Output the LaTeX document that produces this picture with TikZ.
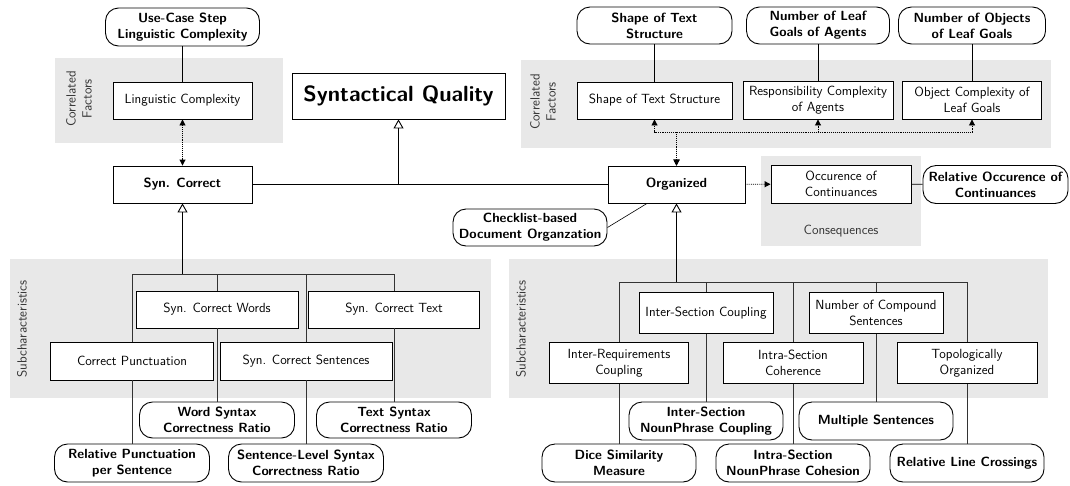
\documentclass[tikz,border=0pt]{standalone}
\usepackage{fontspec}
\usetikzlibrary{arrows.meta}
\newcommand\nf{\fontsize{13.3}{16}\selectfont\sffamily}
\newcommand\bigf{\fontsize{22}{26}\selectfont\sffamily\bfseries}
\begin{document}
\begin{tikzpicture}[x=1pt,y=-1pt,
  grp/.style={fill=black!9,draw=none},
  sz/.style 2 args={minimum width=#1pt,minimum height=#2pt},
  box/.style={draw,fill=white,line width=0.9pt,align=center,inner sep=1pt,font=\nf},
  mbox/.style={box,rounded corners=13pt,font=\nf\bfseries},
  lbl/.style={text=black!80,font=\nf,align=center},
  wire/.style={line width=0.9pt},
  twig/.style={line width=0.7pt,black!80},
  gen/.style={line width=1.3pt,-{Triangle[open,length=9pt,width=10pt,line width=0.9pt]}},
  genthin/.style={line width=0.9pt,-{Triangle[open,length=9pt,width=10pt,line width=0.9pt]}},
  corr/.style={densely dotted,line width=0.9pt,{Triangle[length=6pt,width=6pt]}-{Triangle[length=6pt,width=6pt]}},
  cons/.style={densely dotted,line width=0.9pt,-{Triangle[length=6pt,width=6pt]}},
]
\useasboundingbox (0,0) rectangle (1070,485);

% shaded groups
\fill[grp] (55,58) rectangle (283,143);
\fill[grp] (521,60) rectangle (1051,148);
\fill[grp] (761,156) rectangle (921,246);
\fill[grp] (10,259) rectangle (491,398);
\fill[grp] (509,259) rectangle (1048,398);

\node[lbl,rotate=90] (cfl) at (79,99) {Correlated\\Factors};
\node[lbl,rotate=90] (cfr) at (543,102) {Correlated\\Factors};
\node[lbl,rotate=90] (scl) at (22,329) {Subcharacteristics};
\node[lbl,rotate=90] (scr) at (521,329) {Subcharacteristics};
\node[lbl] (csq) at (841,231) {Consequences};

% main quality and characteristics
\node[box,sz={213}{46},font=\bigf] (sq) at (398.5,96) {Syntactical Quality};
\node[box,sz={139}{37},font=\nf\bfseries] (sc) at (182.5,184.5) {Syn. Correct};
\node[box,sz={137}{37},font=\nf\bfseries] (org) at (676.5,184.5) {Organized};

% correlated factors
\node[box,sz={139}{37}] (lc) at (182.5,100.5) {Linguistic Complexity};
\node[mbox,sz={154}{38}] (uc) at (182.5,27) {Use-Case Step\\Linguistic Complexity};
\node[box,sz={155}{37}] (sts) at (654.5,100.5) {Shape of Text Structure};
\node[mbox,sz={155}{37}] (stm) at (654.5,25.5) {Shape of Text\\Structure};
\node[box,sz={150}{38}] (rca) at (818,100) {Responsibility Complexity\\of Agents};
\node[mbox,sz={143}{37}] (nlg) at (818,25.5) {Number of Leaf\\Goals of Agents};
\node[box,sz={139}{38}] (ocl) at (972,100) {Object Complexity of\\Leaf Goals};
\node[mbox,sz={147}{37}] (nol) at (972,25.5) {Number of Objects\\of Leaf Goals};

% consequences
\node[box,sz={140}{38}] (oc) at (841,184) {Occurence of\\Continuances};
\node[mbox,sz={145}{38}] (roc) at (995.5,184.5) {Relative Occurence of\\Continuances};
\node[mbox,sz={154}{37}] (chk) at (530,227.5) {Checklist-based\\Document Organzation};

% left subcharacteristics
\node[box,sz={162}{37}] (scw) at (217,309.5) {Syn. Correct Words};
\node[box,sz={171}{37}] (sct) at (394,309.5) {Syn. Correct Text};
\node[box,sz={163}{38}] (cp) at (132,361) {Correct Punctuation};
\node[box,sz={172}{38}] (scs) at (306,361) {Syn. Correct Sentences};
\node[mbox,sz={155}{36}] (wsr) at (217,420) {Word Syntax\\Correctness Ratio};
\node[mbox,sz={155}{36}] (tsr) at (394,420) {Text Syntax\\Correctness Ratio};
\node[mbox,sz={155}{38}] (rps) at (132,463) {Relative Punctuation\\per Sentence};
\node[mbox,sz={155}{38}] (sls) at (306,463) {Sentence-Level Syntax\\Correctness Ratio};

% right subcharacteristics
\node[box,sz={134}{41}] (isc) at (706,313) {Inter-Section Coupling};
\node[box,sz={134}{41}] (ncs) at (876,313) {Number of Compound\\Sentences};
\node[box,sz={139}{41}] (irc) at (619,363) {Inter-Requirements\\Coupling};
\node[box,sz={140}{41}] (isch) at (793,363) {Intra-Section\\Coherence};
\node[box,sz={140}{41}] (tpo) at (967,363) {Topologically\\Organized};
\node[mbox,sz={154}{38}] (isnc) at (706,421) {Inter-Section\\NounPhrase Coupling};
\node[mbox,sz={154}{38}] (ms) at (876,421) {Multiple Sentences};
\node[mbox,sz={154}{38}] (dsm) at (619,463) {Dice Similarity\\Measure};
\node[mbox,sz={154}{38}] (isnh) at (793,463) {Intra-Section\\NounPhrase Cohesion};
\node[mbox,sz={154}{38}] (rlc) at (967,463) {Relative Line Crossings};

% metrics of correlated factors
\draw[wire] (uc) -- (lc);
\draw[wire] (stm) -- (sts);
\draw[wire] (nlg) -- (rca);
\draw[wire] (nol) -- (ocl);

% correlations
\draw[corr] (lc) -- (sc);
\coordinate (cj) at (676.5,132);
\draw[corr] (org.north) -- (cj) -| (sts.south);
\draw[corr] (org.north) -- (cj) -| (rca.south);
\draw[corr] (org.north) -- (cj) -| (ocl.south);

% consequence
\draw[cons] (org) -- (oc);
\draw[wire] (oc) -- (roc);
\draw[line width=0.6pt] (chk.east) -- ([xshift=-29.5pt]org.south);

% quality decomposition
\draw[wire] (sc) -- (org);
\coordinate (qj) at (sq.south |- sc.east);
\draw[genthin] (qj) -- (sq.south);

% left tree
\coordinate (lt) at (182.5,274);
\draw[gen] (lt) -- (sc.south);
\draw[twig] (cp.north) -- (cp.north |- lt) -- (sct.north |- lt) -- (sct.north);
\draw[twig] (scw.north) -- (scw.north |- lt);
\draw[twig] (scs.north) -- (scs.north |- lt);
\draw[twig] (cp) -- (rps);
\draw[twig] (scw) -- (wsr);
\draw[twig] (scs) -- (sls);
\draw[twig] (sct) -- (tsr);

% right tree
\coordinate (rt) at (676.5,282);
\draw[gen] (rt) -- (org.south);
\draw[twig] (irc.north) -- (irc.north |- rt) -- (tpo.north |- rt) -- (tpo.north);
\draw[twig] (isc.north) -- (isc.north |- rt);
\draw[twig] (isch.north) -- (isch.north |- rt);
\draw[twig] (ncs.north) -- (ncs.north |- rt);
\draw[twig] (irc) -- (dsm);
\draw[twig] (isc) -- (isnc);
\draw[twig] (isch) -- (isnh);
\draw[twig] (ncs) -- (ms);
\draw[twig] (tpo) -- (rlc);
\end{tikzpicture}
\end{document}
